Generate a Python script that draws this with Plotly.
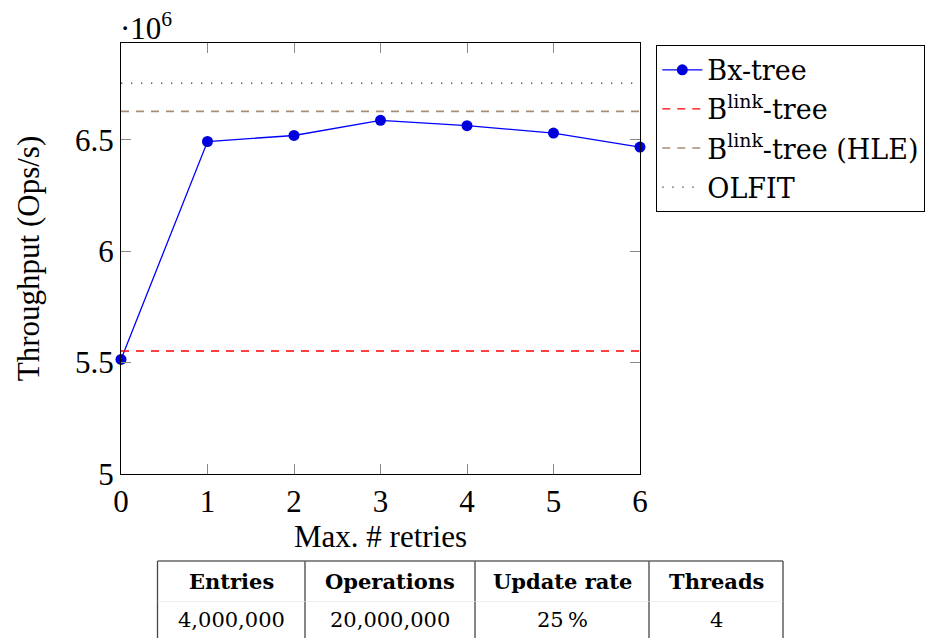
import plotly.graph_objects as go

# ---------------- data ----------------
retries = [0, 1, 2, 3, 4, 5, 6]
bx_tree = [5.514, 6.492, 6.519, 6.587, 6.563, 6.530, 6.467]   # x 10^6 Ops/s
blink_tree = 5.552
blink_tree_hle = 6.627
olfit = 6.754

y_tickvals = [5, 5.5, 6, 6.5]
y_ticktext = ["5", "5.5", "6", "6.5"]
x_tickvals = [0, 1, 2, 3, 4, 5, 6]

table_header = ["Entries", "Operations", "Update rate", "Threads"]
table_values = ["4,000,000", "20,000,000", "25\u2009%", "4"]

# ---------------- layout geometry ----------------
W, H = 927, 638
ML, MR, MT, MB = 121, 287, 43, 164
PW, PH = W - ML - MR, H - MT - MB


def px(xp):
    return (xp - ML) / PW


def py(yp):
    return (H - MB - yp) / PH


AXFONT = "Liberation Serif"
LGFONT = "DejaVu Serif"

fig = go.Figure()
xspan = [min(retries), max(retries)]

fig.add_trace(go.Scatter(
    x=retries, y=bx_tree, mode="lines+markers", name="Bx-tree",
    line=dict(color="#0000ff", width=1.3),
    marker=dict(color="#0000dd", size=11, line=dict(width=0)),
    legendgroup="a", cliponaxis=False,
))
fig.add_trace(go.Scatter(
    x=xspan, y=[blink_tree] * 2, mode="lines", name="B<sup>link</sup>-tree",
    line=dict(color="#ff0000", width=1.3, dash="8px,7px"),
    legendgroup="b",
))
fig.add_trace(go.Scatter(
    x=xspan, y=[blink_tree_hle] * 2, mode="lines", name="B<sup>link</sup>-tree (HLE)",
    line=dict(color="#a88f72", width=1.6, dash="8px,7px"),
    legendgroup="c",
))
fig.add_trace(go.Scatter(
    x=xspan, y=[olfit] * 2, mode="lines", name="OLFIT",
    line=dict(color="#333333", width=1.3, dash="1.3px,8.7px"),
    legendgroup="d",
))

axis_common = dict(
    showgrid=False, zeroline=False, showline=True, linecolor="black", linewidth=1.3,
    mirror="ticks", ticks="inside", ticklen=10, tickcolor="#888888", tickwidth=1,
    tickfont=dict(family=AXFONT, size=31, color="black"),
)

fig.update_xaxes(
    range=[0, 6], tickvals=x_tickvals, ticktext=[str(v) for v in x_tickvals],
    title=dict(text="Max. # retries", font=dict(family=AXFONT, size=31, color="black"), standoff=6),
    **axis_common,
)
fig.update_yaxes(
    range=[5, 6.934], tickvals=y_tickvals, ticktext=y_ticktext,
    title=dict(text="Throughput (Ops/s)", font=dict(family=AXFONT, size=31, color="black"), standoff=26),
    **axis_common,
)

# scale factor label
fig.add_annotation(
    x=px(118), y=py(26), xref="paper", yref="paper", xanchor="left", yanchor="middle",
    text="\u00b710<sup>6</sup>", showarrow=False,
    font=dict(family=AXFONT, size=31, color="black"),
)

# ---------------- info table (below the chart) ----------------
col_edges = [157.5, 305, 475, 649, 783]
t_top, t_mid, t_bot = 561, 601.5, 640
line_col = "#444444"
shapes = []
for xe in col_edges:
    shapes.append(dict(type="line", xref="paper", yref="paper",
                       x0=px(xe), x1=px(xe), y0=py(t_top), y1=py(t_bot),
                       line=dict(color=line_col, width=1.3)))
shapes.append(dict(type="line", xref="paper", yref="paper",
                   x0=px(col_edges[0]), x1=px(col_edges[-1]), y0=py(t_top), y1=py(t_top),
                   line=dict(color="#666666", width=1.3)))
shapes.append(dict(type="line", xref="paper", yref="paper",
                   x0=px(col_edges[0]), x1=px(col_edges[-1]), y0=py(t_mid), y1=py(t_mid),
                   line=dict(color="#e6e6e6", width=0.6)))
fig.update_layout(shapes=shapes)

for i, (hd, val) in enumerate(zip(table_header, table_values)):
    cx = px((col_edges[i] + col_edges[i + 1]) / 2)
    fig.add_annotation(x=cx, y=py(581), xref="paper", yref="paper", text="<b>" + hd + "</b>",
                       showarrow=False, xanchor="center", yanchor="middle",
                       font=dict(family=LGFONT, size=21, color="black"))
    fig.add_annotation(x=cx, y=py(620), xref="paper", yref="paper", text=val,
                       showarrow=False, xanchor="center", yanchor="middle",
                       font=dict(family=LGFONT, size=21, color="black"))

fig.update_layout(
    width=W, height=H,
    margin=dict(l=ML, r=MR, t=MT, b=MB, autoexpand=False),
    paper_bgcolor="white", plot_bgcolor="white",
    showlegend=True,
    legend=dict(
        x=px(656), y=py(44.5), xanchor="left", yanchor="top",
        bgcolor="white", bordercolor="black", borderwidth=1.3,
        font=dict(family=LGFONT, size=27, color="black"),
        tracegroupgap=1, itemwidth=40,
    ),
)

fig.write_html("out.html")
